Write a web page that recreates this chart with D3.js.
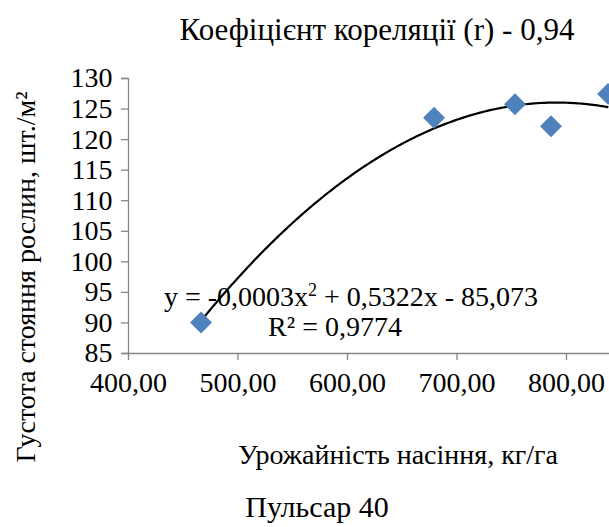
<!DOCTYPE html>
<html>
<head>
<meta charset="utf-8">
<script src="https://cdn.jsdelivr.net/npm/d3@7"></script>
<style>
body{margin:0;background:#fff;}
svg{display:block;font-family:"Liberation Serif","Times New Roman",serif;}
.axis path,.axis line{stroke:#868686;stroke-width:1.3;}
.axis text{fill:#000;font-size:28px;font-family:"Liberation Serif",serif;}
</style>
</head>
<body>
<svg id="chart" width="609" height="527"></svg>
<script>
// урожайність, кг/га
const yieldX = [466.7, 679.5, 753.4, 786.3, 838.4];
// густота стояння, шт./м2
const density = [90.0, 123.5, 125.7, 122.1, 127.4];
const xTicks = [400, 500, 600, 700, 800];
const yTicks = [85, 90, 95, 100, 105, 110, 115, 120, 125, 130];

const svg = d3.select("#chart");

const x = d3.scaleLinear().domain([400, 900]).range([128, 675.5]);
const y = d3.scaleLinear().domain([85, 130]).range([353, 78]);

// quadratic trend (least squares)
function fitQuad(xs, ys){
  let S = [[0,0,0],[0,0,0],[0,0,0]], b = [0,0,0];
  xs.forEach((xv,i)=>{
    let p = [1, xv, xv*xv];
    for(let r=0;r<3;r++){
      b[r] += p[r]*ys[i];
      for(let c=0;c<3;c++) S[r][c] += p[r]*p[c];
    }
  });
  // gauss
  for(let k=0;k<3;k++){
    for(let r=k+1;r<3;r++){
      let f = S[r][k]/S[k][k];
      for(let c=k;c<3;c++) S[r][c] -= f*S[k][c];
      b[r] -= f*b[k];
    }
  }
  let a = [0,0,0];
  for(let r=2;r>=0;r--){
    let s = b[r];
    for(let c=r+1;c<3;c++) s -= S[r][c]*a[c];
    a[r] = s/S[r][r];
  }
  return a;
}
const coef = fitQuad(yieldX, density);

// x axis runs past the right edge (cropped like the source)
svg.append("g").attr("class","axis")
  .attr("transform","translate(0,353)")
  .call(d3.axisBottom(x).tickValues(xTicks).tickSize(7).tickSizeOuter(0)
    .tickFormat(d => d3.format(".2f")(d).replace(".", ",")))
  .call(g => g.selectAll("text").attr("dy","1.05em"));

svg.append("g").attr("class","axis")
  .attr("transform","translate(128,0)")
  .call(d3.axisLeft(y).tickValues(yTicks).tickSize(7).tickSizeOuter(7))
  .call(g => g.selectAll("text").attr("dx","-0.2em"));

// trend line
const xs = d3.range(yieldX[0], yieldX[yieldX.length-1] + 0.5, 2);
const line = d3.line()
  .x(d => x(d))
  .y(d => y(coef[0] + coef[1]*d + coef[2]*d*d));
svg.append("path").datum(xs)
  .attr("d", line)
  .attr("fill","none").attr("stroke","#000").attr("stroke-width",2.2);

// points
svg.selectAll(".pt").data(yieldX).join("path")
  .attr("class","pt")
  .attr("d", d3.symbol().type(d3.symbolSquare).size(240))
  .attr("transform",(d,i)=>`translate(${x(d)},${y(density[i])}) rotate(45)`)
  .attr("fill","#4F81BD");

// texts
svg.append("text").attr("x",377).attr("y",40).attr("text-anchor","middle")
  .attr("font-size",31).text("Коефіцієнт кореляції (r) - 0,94");

svg.append("text").attr("x",351).attr("y",306).attr("text-anchor","middle")
  .attr("font-size",28)
  .html('y = -0,0003x<tspan dy="-10" font-size="18">2</tspan><tspan dy="10"> + 0,5322x - 85,073</tspan>');
svg.append("text").attr("x",335).attr("y",336).attr("text-anchor","middle")
  .attr("font-size",28).text("R² = 0,9774");

svg.append("text").attr("transform","translate(35,277) rotate(-90)")
  .attr("text-anchor","middle").attr("font-size",28)
  .text("Густота стояння рослин, шт./м²");

svg.append("text").attr("x",398).attr("y",464).attr("text-anchor","middle")
  .attr("font-size",28).text("Урожайність насіння, кг/га");

svg.append("text").attr("x",317).attr("y",517).attr("text-anchor","middle")
  .attr("font-size",30).text("Пульсар 40");
</script>
</body>
</html>
